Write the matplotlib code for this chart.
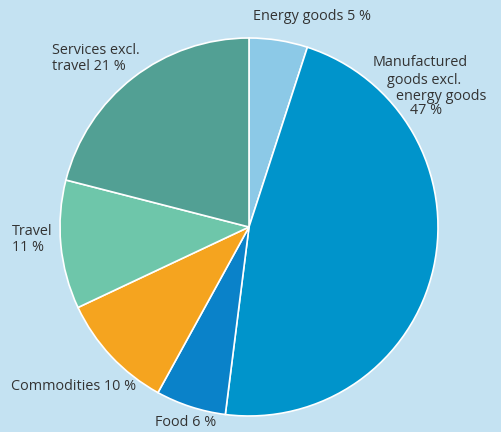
import matplotlib
matplotlib.use("Agg")
import matplotlib.pyplot as plt

# Shares in percent, clockwise from 12 o'clock
categories = ["Energy goods", "Manufactured goods excl. energy goods", "Food",
              "Commodities", "Travel", "Services excl. travel"]
shares = [5, 47, 6, 10, 11, 21]
colors = ["#8cc9e7", "#0094cb", "#0a82c9", "#f5a41f", "#6ec6aa", "#52a094"]

W, H = 502, 432
fig = plt.figure(figsize=(W / 100, H / 100), dpi=100)
fig.patch.set_facecolor("#c4e2f2")
ax = fig.add_axes([0, 0, 1, 1])
ax.set_facecolor("#c4e2f2")

ax.pie(shares, colors=colors, startangle=90, counterclock=False,
       center=(249, H - 227), radius=189,
       wedgeprops=dict(edgecolor="white", linewidth=1.2))

# pie() resets the view, so fix the pixel-based frame afterwards
ax.set_xlim(0, W)
ax.set_ylim(0, H)
ax.set_aspect("equal")
ax.axis("off")

font = dict(family=["Open Sans", "DejaVu Sans"], fontsize=10.4, color="#333333",
            va="center", ha="left")

def label(x, y, s):
    ax.text(x, H - y, s, **font)

label(253, 17, f"Energy goods {shares[0]} %")
label(373, 63, "Manufactured")
label(387, 80, "goods excl.")
label(396, 97, "energy goods")
label(410, 111, f"{shares[1]} %")
label(155, 423, f"Food {shares[2]} %")
label(11, 386, f"Commodities {shares[3]} %")
label(12, 232, "Travel")
label(12, 248, f"{shares[4]} %")
label(52, 50, "Services excl.")
label(52, 67, f"travel {shares[5]} %")

fig.savefig("out.png", dpi=100, facecolor=fig.get_facecolor())
